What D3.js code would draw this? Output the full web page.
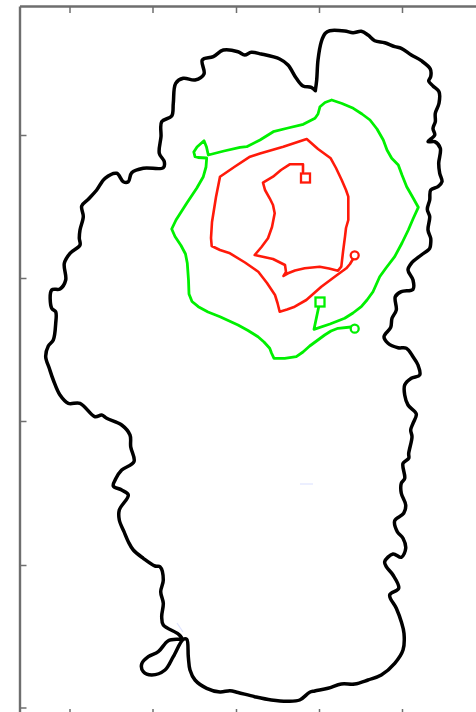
<!DOCTYPE html>
<html>
<head>
<meta charset="utf-8">
<script src="https://cdn.jsdelivr.net/npm/d3@7"></script>
<style>
    html, body { margin: 0; padding: 0; background: #fff; overflow: hidden; }
    svg { display: block; filter: blur(0.45px); }
    .domain, .tick line { stroke: #6e6e6e; }
</style>
</head>
<body>
<div id="chart"></div>
<script>
// no tick labels in the picture, so values are just read off it in image units
const xTicks = [69.5, 152.5, 236, 319, 402];
const yTicks = [135, 278, 421, 565, 707.5];

const shoreline = [
    [315.3,90.7],[316.7,80],[318,60],[321.3,41.7],[325.3,33.3],[329.7,30.7],[344.7,31],[353,32.7],[361.3,31.3],[368,35],
    [374.7,40.7],[384.7,42.7],[394.7,46.7],[401.3,48.3],[411.3,55],[421.3,60.7],[430.3,69],[430.7,76.7],[428.7,81],[433,86],
    [439,91.7],[439,103.3],[435.3,113.3],[435.3,121.7],[433,128.3],[434.7,135],[428,141.7],[434.7,141.7],[440.3,148.3],[438.7,163.3],
    [439.7,173.3],[442,181.7],[438,186.7],[430.7,190],[429.7,200],[427.3,209.3],[429.7,216.7],[428,230],[430.7,238.3],[430.7,243.3],
    [429.7,248.3],[421.3,255],[411.3,263.3],[408,270],[413,280],[413,289.3],[401.3,291.7],[395.3,296.7],[396.3,310],[392,318.3],
    [390.7,327.3],[384,336.7],[388,343.3],[398,347.7],[406.3,348.3],[413,356.7],[418,365],[419.7,375],[411.3,378.3],[404.7,385],
    [404.7,395],[408,405],[416.3,414],[413,423.3],[410.7,430],[412,436.7],[408.7,453.3],[408.7,458.3],[403,463.3],[404.7,478.3],
    [401.3,483.3],[401.3,493.3],[405.7,505],[403.7,513.3],[394.7,520.7],[397.3,531.7],[403,538.3],[405.7,548.3],[401.3,557.3],[393,554],
    [384.7,561.7],[386.3,566.7],[393,575],[398.7,588.3],[389.7,595],[396.3,608.3],[401.3,621.7],[404,633.3],[403,650],[394.7,663.3],
    [381.3,675],[368,680],[354.7,684],[341.3,684],[328,688.3],[314.7,691],[309.7,692.3],[299.7,700],[288,701.3],[271.3,700],
    [254.7,696.7],[238,692.5],[230,690.7],[220,692],[206.7,688.3],[195,680],[190,670],[188.3,656.7],[186.7,639.3],[183.3,639.3],
    [173.3,656.7],[165,670],[151.7,675],[143.3,671.7],[141.7,664],[148.3,656.7],[158.3,651.7],[168.3,640.7],[181.7,638.3],[178.3,634],
    [163.3,625],[161.7,616.7],[163.3,603.3],[160.7,591.7],[163.3,580],[160,566.7],[155,566],[143.3,558.3],[133.3,550],[128.3,541.7],
    [124,531.7],[119.3,520],[119.3,510],[128.3,495],[121.7,490],[113.3,486],[116,478.3],[121.7,470],[134,461.7],[130.7,446.7],
    [130,435],[121.7,425],[106.7,418.3],[101.7,415],[95,416.7],[80,403.3],[68.3,403.3],[60,395],[53.3,380],[49.3,368.3],
    [45.7,356.7],[48.3,346],[53.3,340],[55.7,323.3],[55.7,311.7],[51.7,308.3],[51.7,290],[60,289],[65.7,280],[64.3,263.3],
    [70,253.3],[80,245],[79.3,238.3],[80,230],[83.3,216.7],[81.7,206],[88.3,199.3],[96.7,190],[105,178.3],[116.7,173.3],
    [123.3,181.7],[128.3,181.7],[131.7,172.7],[143.3,168.3],[163.3,167.7],[164.3,161.7],[159.3,153.3],[161,136.7],[161.7,121.7],[171.7,116],
    [173.3,103.3],[175.7,83.3],[183.3,78.3],[195,80],[204,74],[202.3,60],[213.3,56.7],[223.3,50],[238,51.7],[244.7,55],
    [251.3,52.3],[261.3,54],[279.7,59],[288,65],[296.3,78.3],[303,86],[311.3,87.3],[315.3,90.7]
];

const greenTrack = [
    [351,327],[338,328.3],[331,331],[324.7,335],[309.7,346],[303,352],[296.3,356.7],[284.7,358.3],[274,358.3],[271.5,353],
    [269.7,348.3],[264,342],[258,336.7],[248,330.5],[238,325],[220,316.7],[208,312],[198.3,306.7],[192,301.5],[189,294],
    [188.5,280],[187.3,263.3],[185.5,254],[181,245.5],[175,236.5],[171.7,229],[176,220],[186.7,203.3],[196.7,188.3],[203.3,176.7],
    [206,167],[206.7,158],[198,157.5],[195,156.7],[193.8,152],[197,147],[204,140.7],[206.5,147],[208.3,155],[224,151],
    [240,147.3],[246.7,146.7],[260,140],[273.3,131.7],[288,128],[303.3,124.3],[315,118.3],[318,114],[320,106.7],[325,102.5],
    [331.7,100],[342,103.5],[353.3,108.3],[362,114],[370,120],[377,129],[383.3,140],[387,150],[391.7,158.3],[398.3,165],
    [402,175],[406.7,186.7],[412,196],[418.3,207.3],[413,219],[408.3,230],[402,243],[394.7,256.7],[386,268],[379.7,276.7],
    [373,291.7],[367,300],[361.3,306.7],[353,313],[344.7,318.3],[330,324],[314,329.3],[319.7,302.3]
];
const greenStart = [354.7, 328.7];
const greenEnd = [320, 302];

const redTrack = [
    [353,259],[350,264],[346.3,268.3],[334.7,276.7],[321.3,286.7],[306.3,300],[294.7,306.7],[287,309.5],[279.7,311.7],[277.5,303],
    [275,295],[267,283],[258.3,271.7],[245,262.5],[230,253.3],[220,250],[211.7,246],[211,238],[212,222],[216,197],
    [220,176.7],[235,166.5],[250,156.7],[260,153.5],[283.3,146.7],[306.7,139],[318,149],[330.7,158.3],[336,168],[341.7,180],
    [346,190],[348.3,196.7],[348.3,206.7],[348.3,220],[346,228],[345,236.7],[343,252],[341.3,266.7],[338,270.7],[329,268.5],
    [319.7,266.7],[304.7,268.3],[295,270.5],[288,273.3],[283.5,276],[286,272],[285,265],[273,259],[254.7,255],[261.5,247],
    [268,238.3],[272,227],[274.7,213.3],[273,205],[269.7,198.3],[265,190],[263,182.7],[273,176.7],[281,170],[289.7,164.3],
    [303,164.3],[303,172]
];
const redStart = [354.7, 255.3];
const redEnd = [305.5, 178];

// faint blue smudges left in the reference
const smudges = [
    [[177,623],[183,632]],
    [[300,484],[313,484]]
];

const width = 476;
const height = 712;

const xScale = d3.scaleLinear().domain([19.5, 476]).range([19.5, 476]);
const yScale = d3.scaleLinear().domain([6, 712]).range([6, 712]);

const svg = d3.select('#chart')
    .append('svg')
    .attr('width', width)
    .attr('height', height);

//axes
const topAxis = d3.axisTop(xScale).tickValues(xTicks).tickSize(-7).tickSizeOuter(0).tickFormat('');
const bottomAxis = d3.axisBottom(xScale).tickValues(xTicks).tickSize(-7).tickSizeOuter(0).tickFormat('');
const leftAxis = d3.axisLeft(yScale).tickValues(yTicks).tickSize(-7).tickSizeOuter(0).tickFormat('');

svg.append('g').attr('transform', `translate(0, ${yScale(6)})`).call(topAxis);
svg.append('g').attr('transform', `translate(0, ${yScale(716)})`).call(bottomAxis);
svg.append('g').attr('transform', `translate(${xScale(19.5)}, 0)`).call(leftAxis);

svg.selectAll('.domain').attr('stroke-width', 2.4);
svg.selectAll('.tick line').attr('stroke-width', 1.5);

// shore gets a slight spline, the tracks keep their corners
const curvedLine = d3.line()
    .x(d => xScale(d[0]))
    .y(d => yScale(d[1]))
    .curve(d3.curveCatmullRom.alpha(0.5));

const straightLine = d3.line()
    .x(d => xScale(d[0]))
    .y(d => yScale(d[1]));

svg.selectAll('.smudge')
    .data(smudges)
    .join('path')
    .attr('class', 'smudge')
    .attr('d', straightLine)
    .attr('fill', 'none')
    .attr('stroke', '#dfe4ff')
    .attr('stroke-width', 1.2);

//shore and tracks
const paths = [
    { data: shoreline, color: '#000000', w: 3.5, line: curvedLine },
    { data: greenTrack, color: '#00f000', w: 2.8, line: straightLine },
    { data: redTrack, color: '#ff1a0a', w: 2.6, line: straightLine }
];

svg.selectAll('.track')
    .data(paths)
    .join('path')
    .attr('class', 'track')
    .attr('d', d => d.line(d.data))
    .attr('fill', 'none')
    .attr('stroke', d => d.color)
    .attr('stroke-width', d => d.w)
    .attr('stroke-linejoin', 'round')
    .attr('stroke-linecap', 'round');

//start markers
svg.selectAll('.start')
    .data([{ p: greenStart, color: '#00f000' }, { p: redStart, color: '#ff1a0a' }])
    .join('circle')
    .attr('class', 'start')
    .attr('cx', d => xScale(d.p[0]))
    .attr('cy', d => yScale(d.p[1]))
    .attr('r', 4)
    .attr('fill', '#fff')
    .attr('stroke', d => d.color)
    .attr('stroke-width', 2.3);

//end markers
svg.selectAll('.end')
    .data([{ p: greenEnd, color: '#00f000' }, { p: redEnd, color: '#ff1a0a' }])
    .join('rect')
    .attr('class', 'end')
    .attr('x', d => xScale(d.p[0]) - 4.5)
    .attr('y', d => yScale(d.p[1]) - 4.5)
    .attr('width', 9)
    .attr('height', 9)
    .attr('fill', '#fff')
    .attr('stroke', d => d.color)
    .attr('stroke-width', 2.3);
</script>
</body>
</html>
